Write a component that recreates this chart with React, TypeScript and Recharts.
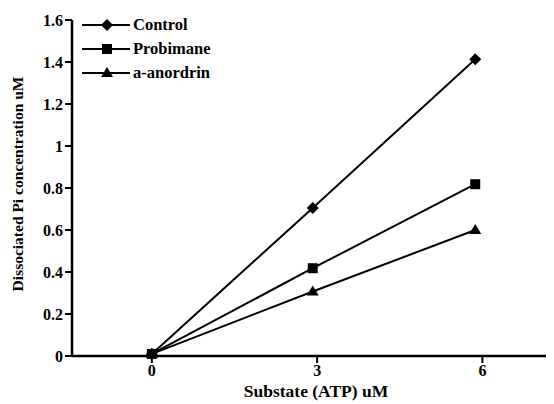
import { LineChart, Line, XAxis, YAxis } from "recharts";

const X_VALUES = [0, 2.92, 5.87];
const CONTROL = [0.01, 0.705, 1.413];
const PROBIMANE = [0.01, 0.418, 0.818];
const ANORDRIN = [0.01, 0.307, 0.6];
const Y_TICKS = [0, 0.2, 0.4, 0.6, 0.8, 1, 1.2, 1.4, 1.6];
const X_TICKS = [0, 3, 6];

const SERIES = [
  { key: "control", name: "Control", shape: "diamond" },
  { key: "probimane", name: "Probimane", shape: "square" },
  { key: "anordrin", name: "a-anordrin", shape: "triangle" },
];

const data = X_VALUES.map((x, i) => ({
  x,
  control: CONTROL[i],
  probimane: PROBIMANE[i],
  anordrin: ANORDRIN[i],
}));

const FONT = "Liberation Serif";
const tickStyle = { fill: "#000", fontSize: 16, fontWeight: "bold", fontFamily: FONT };

function Marker({ cx, cy, shape }: { cx: number; cy: number; shape: string }) {
  if (shape === "diamond") {
    return <polygon points={`${cx},${cy - 6} ${cx + 6},${cy} ${cx},${cy + 6} ${cx - 6},${cy}`} fill="#000" />;
  }
  if (shape === "square") {
    return <rect x={cx - 5} y={cy - 5} width={10} height={10} fill="#000" />;
  }
  return <polygon points={`${cx},${cy - 6} ${cx + 6},${cy + 4} ${cx - 6},${cy + 4}`} fill="#000" />;
}

function LegendBox() {
  return (
    <svg width={170} height={90} style={{ display: "block" }}>
      {SERIES.map((s, i) => {
        const y = 14 + i * 24;
        return (
          <g key={s.key}>
            <line x1={2} x2={50} y1={y} y2={y} stroke="#000" strokeWidth={2} />
            <Marker cx={27} cy={y} shape={s.shape} />
            <text x={53} y={y + 5} style={{ fontFamily: FONT, fontWeight: "bold", fontSize: 16.5 }} fill="#000">
              {s.name}
            </text>
          </g>
        );
      })}
    </svg>
  );
}

function YLabel({ viewBox }: any) {
  const x = (viewBox?.x ?? 0) + 15;
  const y = (viewBox?.y ?? 0) + (viewBox?.height ?? 0) / 2 - 4;
  return (
    <text
      x={x}
      y={y}
      transform={`rotate(-90 ${x} ${y})`}
      textAnchor="middle"
      style={{ fontFamily: FONT, fontWeight: "bold", fontSize: 15.5 }}
      fill="#000"
    >
      Dissociated Pi concentration uM
    </text>
  );
}

export default function App() {
  return (
    <div style={{ position: "relative", width: 546, height: 396, fontFamily: FONT }}>
      <LineChart
        width={546}
        height={396}
        data={data}
        margin={{ top: 12, right: 0, bottom: 4, left: 0 }}
      >
        <XAxis
          dataKey="x"
          type="number"
          domain={[-1.45, 7.3]}
          ticks={X_TICKS}
          allowDataOverflow
          height={44}
          axisLine={{ stroke: "#000", strokeWidth: 2.5 }}
          tickLine={{ stroke: "#000", strokeWidth: 2 }}
          tickSize={7}
          tick={tickStyle}
          label={{
            value: "Substate (ATP) uM",
            position: "insideBottom",
            offset: 3,
            dx: 3,
            fill: "#000",
            fontSize: 17.5,
            fontWeight: "bold",
            fontFamily: FONT,
          }}
        />
        <YAxis
          type="number"
          domain={[0, 1.6]}
          ticks={Y_TICKS}
          width={64}
          axisLine={{ stroke: "#000", strokeWidth: 2.5 }}
          tickLine={{ stroke: "#000", strokeWidth: 2 }}
          tickSize={7}
          tick={tickStyle}
          label={(p: any) => <YLabel {...p} />}
        />
        {SERIES.map((s) => (
          <Line
            key={s.key}
            dataKey={s.key}
            name={s.name}
            type="linear"
            stroke="#000"
            strokeWidth={2}
            isAnimationActive={false}
            dot={(p: any) => <Marker key={`${s.key}-${p.index}`} cx={p.cx} cy={p.cy} shape={s.shape} />}
            activeDot={false}
          />
        ))}
      </LineChart>
      <div style={{ position: "absolute", left: 72, top: 3 }}>
        <LegendBox />
      </div>
    </div>
  );
}
